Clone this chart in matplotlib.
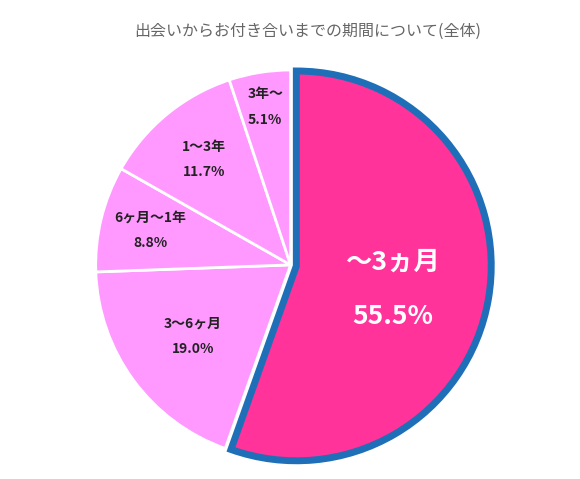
import matplotlib
matplotlib.use("Agg")
import matplotlib.pyplot as plt
import numpy as np

plt.rcParams['font.family'] = ['Noto Sans CJK JP', 'DejaVu Sans']

labels = ["～3ヵ月", "3～6ヶ月", "6ヶ月～1年", "1～3年", "3年～"]
values = [55.5, 19.0, 8.8, 11.7, 5.1]
colors = ["#FF3399", "#FF99FF", "#FF99FF", "#FF99FF", "#FF99FF"]
label_r = [0.5, 0.62, 0.74, 0.7, 0.82]

fig = plt.figure(figsize=(5.8, 4.79), dpi=100)
ax = fig.add_axes([0.165, 0.04, 0.672, 0.814])
wedges, _ = ax.pie(values, colors=colors, startangle=90, counterclock=False,
                   explode=[0.03, 0, 0, 0, 0],
                   wedgeprops=dict(edgecolor="white", linewidth=2))
wedges[0].set_edgecolor("#1F6FB8")
wedges[0].set_linewidth(5)
wedges[0].set_zorder(3)
ax.set_xlim(-1.0, 1.0)
ax.set_ylim(-1.0, 1.0)
ax.set_aspect("equal")

for i, w in enumerate(wedges):
    ang = np.deg2rad((w.theta1 + w.theta2) / 2)
    x, y = label_r[i] * np.cos(ang), label_r[i] * np.sin(ang)
    if i == 0:
        x += 0.03
        ax.text(x, y + 0.1, labels[i], ha="center", va="center", color="white",
                fontsize=19, fontweight="bold", zorder=5)
        ax.text(x, y - 0.18, f"{values[i]}%", ha="center", va="center", color="white",
                fontsize=19, fontweight="bold", zorder=5)
    else:
        ax.text(x, y, f"{labels[i]}\n\n{values[i]}%", ha="center", va="center",
                color="#222222", fontsize=10, fontweight="bold", linespacing=0.9, zorder=5)

fig.text(0.53, 0.935, "出会いからお付き合いまでの期間について(全体)", ha="center", va="center",
         color="#666666", fontsize=11.5)

fig.savefig("out.png", dpi=100)
